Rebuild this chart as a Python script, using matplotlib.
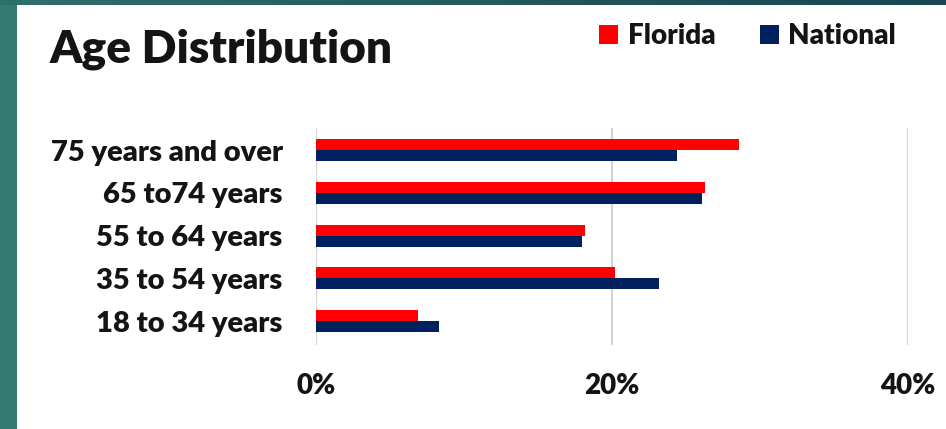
import matplotlib
matplotlib.use("Agg")
import matplotlib.pyplot as plt
import numpy as np
from matplotlib.patches import Rectangle
from matplotlib.colors import LinearSegmentedColormap

# ---- Daten -----------------------------------------------------------
categories = ["18 to 34 years", "35 to 54 years", "55 to 64 years",
              "65 to74 years", "75 years and over"]
florida  = [6.9, 20.2, 18.2, 26.3, 28.6]
national = [8.3, 23.2, 18.0, 26.1, 24.4]
xticks = [0, 20, 40]
xtick_labels = ["0%", "20%", "40%"]
# ----------------------------------------------------------------------

W, H = 946, 429
RED = "#ff0000"
NAVY = "#002060"
TXT = "#141414"
WEIGHT = "heavy"

plt.rcParams["font.family"] = ["Lato", "DejaVu Sans"]
plt.rcParams["font.weight"] = "bold"

fig = plt.figure(figsize=(W / 100, H / 100), dpi=100, facecolor="#357a70")

# obere Leiste mit Verlauf
band = fig.add_axes([0, 1 - 5 / H, 1, 5 / H])
grad = np.linspace(0, 1, 256)[None, :]
cm = LinearSegmentedColormap.from_list("band", ["#2f6f6a", "#1a4550"])
band.imshow(grad, aspect="auto", cmap=cm)
band.set_axis_off()

# weisse Fläche
fig.patches.append(Rectangle((17 / W, 0), 1 - 17 / W, 1 - 5 / H,
                             transform=fig.transFigure, facecolor="white",
                             edgecolor="none", zorder=-10))

ax = fig.add_axes([316 / W, 1 - 345 / H, (908 - 316) / W, (345 - 128) / H])
ax.set_facecolor("none")

y = np.arange(len(categories))
h = 0.257
b1 = ax.barh(y + h / 2, florida, height=h, color=RED, label="Florida", zorder=3)
b2 = ax.barh(y - h / 2, national, height=h, color=NAVY, label="National", zorder=3)

ax.set_xlim(0, 40)
ax.set_ylim(-0.56, 4.52)
ax.set_xticks(xticks)
ax.set_xticklabels(xtick_labels)
ax.set_yticks(y)
ax.set_yticklabels(categories)
ax.tick_params(axis="both", length=0, labelsize=20, labelcolor=TXT)
ax.tick_params(axis="y", pad=24, labelsize=21)
ax.tick_params(axis="x", pad=20)
for lbl in ax.get_xticklabels() + ax.get_yticklabels():
    lbl.set_fontweight(WEIGHT)
ax.grid(axis="x", color="#d4d4d4", lw=1.5, zorder=0)
for s in ax.spines.values():
    s.set_visible(False)

fig.text(50 / W, 1 - 63 / H, "Age Distribution", fontsize=33,
         fontweight=WEIGHT, color=TXT, va="baseline", ha="left")

leg = fig.legend(handles=[b1, b2], loc="upper right",
                 bbox_to_anchor=(910 / W, 1 - 9 / H), ncol=2, frameon=False,
                 fontsize=20, handlelength=0.68, handleheight=0.68,
                 handletextpad=0.35, columnspacing=1.6, borderpad=0)
for t in leg.get_texts():
    t.set_color(TXT)
    t.set_fontweight(WEIGHT)

fig.savefig("out.png", dpi=100, facecolor=fig.get_facecolor())
